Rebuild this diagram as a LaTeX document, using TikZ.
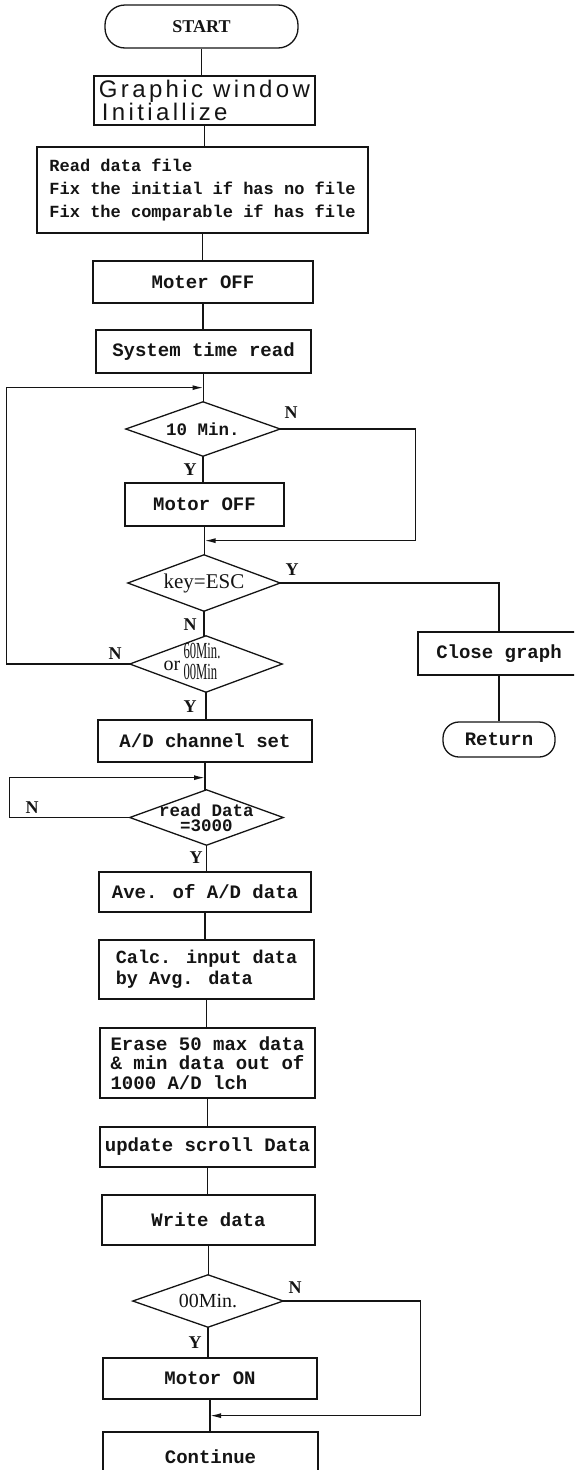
\documentclass[tikz,border=0pt]{standalone}
\usepackage{fontspec}
\usepackage{tikz}
\usetikzlibrary{arrows.meta}
\setmainfont{Liberation Serif}
\newfontfamily\boxFont{Liberation Mono}
\newfontfamily\winFont[LetterSpace=14]{Liberation Sans}
\newfontfamily\slimFont[FakeStretch=0.55]{Liberation Serif}
\definecolor{inkFlow}{HTML}{141414}
\tikzset{
  flowLine/.style={draw=inkFlow, line width=1.3pt},
  flowArr/.style={flowLine, -{Latex[length=11pt,width=5pt]}},
  procBox/.style={flowLine, rectangle, inner sep=0pt, text=inkFlow,
    font=\boxFont\bfseries\fontsize{19}{21}\selectfont},
  termBox/.style={procBox, rounded corners=16pt},
  decBox/.style={rectangle, inner sep=0pt, text=inkFlow,
    font=\boxFont\bfseries\fontsize{17.5}{15}\selectfont},
  ynLbl/.style={inner sep=0pt, text=inkFlow,
    font=\bfseries\fontsize{18}{18}\selectfont}
}
\newcommand{\decNode}[6]{% nombre, x, y, ancho, alto, texto
  \node[decBox, minimum width=#4pt, minimum height=#5pt, align=center] (#1) at (#2,#3) {#6};
  \draw[flowLine] (#1.north) -- (#1.east) -- (#1.south) -- (#1.west) -- cycle;
}
\newcommand{\vLink}[2]{% linea vertical de #1 a #2
  \draw[flowLine] (#1.south) -- (#1.south |- #2.north);
}
\begin{document}
\begin{tikzpicture}[x=1pt,y=-1pt]
  \useasboundingbox (0,0) rectangle (574,1470);
  \clip (0,0) rectangle (574,1470);
  % columna principal
  \node[termBox, minimum width=193pt, minimum height=43pt, rounded corners=20pt,
        font=\bfseries\fontsize{18}{18}\selectfont] (start) at (201.5,26.5) {START};
  \node[procBox, minimum width=221pt, minimum height=49pt, align=left,
        font=\winFont\fontsize{24}{21}\selectfont] (gwin) at (204.5,100.5) {Graphic window\\\hspace*{3pt}Initiallize};
  \node[procBox, minimum width=331pt, minimum height=86pt, align=left,
        font=\boxFont\bfseries\fontsize{17}{23}\selectfont] (rdata) at (202.5,190)
        {Read data file\\Fix the initial if has no file\\Fix the comparable if has file};
  \node[procBox, minimum width=220pt, minimum height=42pt] (moff) at (203,282) {Moter OFF};
  \node[procBox, minimum width=215pt, minimum height=43pt] (stime) at (203.5,351.5) {System time read};
  \decNode{dten}{203}{429}{154}{54}{10 Min.}
  \node[procBox, minimum width=159pt, minimum height=43pt] (moffb) at (204.5,504.5) {Motor OFF};
  \decNode{desc}{204}{583}{152}{56}{\mdseries\rmfamily\fontsize{21}{21}\selectfont key=ESC}
  \decNode{dsixty}{206}{664}{152}{56}{\mdseries\rmfamily\fontsize{20}{20}\selectfont or\,{\slimFont\fontsize{23}{18}\selectfont
     \begin{tabular}[c]{@{}l@{}}60Min.\\00Min\end{tabular}}\hspace{28pt}}
  \node[procBox, minimum width=214pt, minimum height=42pt] (adset) at (205,741) {A/D channel set};
  \decNode{dread}{206.5}{817.5}{153}{55}{read Data\\=3000}
  \node[procBox, minimum width=212pt, minimum height=40pt] (ave) at (205,892) {Ave. of A/D data};
  \node[procBox, minimum width=215pt, minimum height=59pt, align=left,
        font=\boxFont\bfseries\fontsize{18.5}{21}\selectfont] (calc) at (206.5,969.5) {Calc. input data\\by Avg. data};
  \node[procBox, minimum width=215pt, minimum height=70pt, align=left,
        font=\boxFont\bfseries\fontsize{19}{19.5}\selectfont] (erase) at (207.5,1063)
        {Erase 50 max data\\\& min data out of\\1000 A/D lch};
  \node[procBox, minimum width=215pt, minimum height=40pt] (upd) at (207.5,1147) {update scroll Data};
  \node[procBox, minimum width=213pt, minimum height=50pt] (wdata) at (208.5,1220) {Write data};
  \decNode{dzero}{208}{1301}{150}{52}{\mdseries\rmfamily\fontsize{20}{20}\selectfont 00Min.}
  \node[procBox, minimum width=214pt, minimum height=41pt] (mon) at (210,1378.5) {Motor ON};
  \node[procBox, minimum width=215pt, minimum height=50pt] (cont) at (210.5,1457) {Continue};
  % rama derecha
  \node[procBox, minimum width=162pt, minimum height=43pt] (close) at (499,653.5) {Close graph};
  \node[termBox, minimum width=112pt, minimum height=35pt] (ret) at (499,739.5) {Return};
  % uniones
  \path (stime.south) ++(0,14) coordinate (jA);
  \path (moffb.south) ++(0,14) coordinate (jB);
  \path (adset.south) ++(0,15) coordinate (jC);
  \path (mon.south) ++(0,16) coordinate (jD);
  % lineas
  \vLink{start}{gwin}
  \vLink{gwin}{rdata}
  \vLink{rdata}{moff}
  \vLink{moff}{stime}
  \vLink{stime}{dten}
  \vLink{dten}{moffb}
  \vLink{moffb}{desc}
  \vLink{desc}{dsixty}
  \vLink{dsixty}{adset}
  \vLink{adset}{dread}
  \vLink{dread}{ave}
  \vLink{ave}{calc}
  \vLink{calc}{erase}
  \vLink{erase}{upd}
  \vLink{upd}{wdata}
  \vLink{wdata}{dzero}
  \vLink{dzero}{mon}
  \vLink{mon}{cont}
  \vLink{close}{ret}
  \draw[flowArr] (dten.east) -- ++(135,0) |- (jB);     % N de 10 Min.
  \draw[flowLine] (desc.east) -| (close.north);        % Y de ESC
  \draw[flowArr] (dsixty.west) -- ++(-123,0) |- (jA);  % N de 60Min
  \draw[flowArr] (dread.west) -- ++(-120,0) |- (jC);   % N de 3000
  \draw[flowArr] (dzero.east) -- ++(137,0) |- (jD);    % N de 00Min
  % etiquetas Y/N
  \node[ynLbl] (nten) at (291,413) {N};
  \node[ynLbl] (yten) at (190,470) {Y};
  \node[ynLbl] (yesc) at (292,570) {Y};
  \node[ynLbl] (nesc) at (190,625) {N};
  \node[ynLbl] (nsixty) at (115,654) {N};
  \node[ynLbl] (ysixty) at (190,707) {Y};
  \node[ynLbl] (nread) at (32,808) {N};
  \node[ynLbl] (yread) at (196,858) {Y};
  \node[ynLbl] (nzero) at (295,1288) {N};
  \node[ynLbl] (yzero) at (195,1343) {Y};
\end{tikzpicture}
\end{document}
